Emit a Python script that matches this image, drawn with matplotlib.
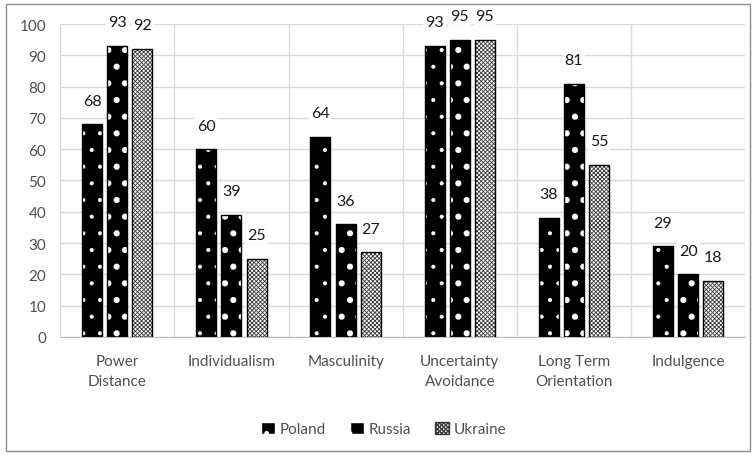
import numpy as np
import matplotlib
matplotlib.use("Agg")
import matplotlib.pyplot as plt
from matplotlib.patches import Rectangle, Patch

# Hofstede dimension scores
categories = ["Power\nDistance", "Individualism", "Masculinity",
              "Uncertainty\nAvoidance", "Long Term\nOrientation", "Indulgence"]
poland = [68, 60, 64, 93, 38, 29]
russia = [93, 39, 36, 95, 81, 20]
ukraine = [92, 25, 27, 95, 55, 18]
series_names = ["Poland", "Russia", "Ukraine"]
y_ticks = list(range(0, 101, 10))

plt.rcParams['font.family'] = ['Lato', 'DejaVu Sans']

fig = plt.figure(figsize=(7.52, 4.56), dpi=100)
ax = fig.add_axes([0.08, 0.259, 0.911, 0.686])

x = np.arange(len(categories))
width = 0.175
step = 0.22

styles = [
    dict(facecolor="black", edgecolor="white", hatch=".", hlw=0.5),    # Poland
    dict(facecolor="black", edgecolor="white", hatch=".", hlw=2.0),    # Russia
    dict(facecolor="white", edgecolor="#3a3a3a", hatch="xxxxxxxx", hlw=0.6),  # Ukraine
]

all_vals = [poland, russia, ukraine]
for i, vals in enumerate(all_vals):
    pos = x + (i - 1) * step
    st = styles[i]
    with plt.rc_context({'hatch.linewidth': st["hlw"]}):
        ax.bar(pos, vals, width, facecolor=st["facecolor"], edgecolor=st["edgecolor"],
               hatch=st["hatch"], linewidth=0, zorder=2)
    ax.bar(pos, vals, width, fill=False, edgecolor="black", linewidth=1, zorder=3)

# data labels with white boxes like Excel
for i, vals in enumerate(all_vals):
    pos = x + (i - 1) * step
    for p, v in zip(pos, vals):
        ax.annotate(str(v), (p, v), xytext=(0, 17), textcoords="offset points",
                    ha="center", va="center", fontsize=11.5, color="#1a1a1a",
                    bbox=dict(facecolor="white", edgecolor="none", pad=1.5),
                    zorder=4, annotation_clip=False)

ax.set_xlim(-0.5, len(categories) - 0.5)
ax.set_ylim(0, 100)
ax.set_yticks(y_ticks)
ax.set_xticks(x)
ax.set_xticklabels(categories, fontsize=11, color="#505050", linespacing=1.6)
ax.tick_params(axis="y", labelsize=11, labelcolor="#505050", length=0, pad=10)
ax.tick_params(axis="x", length=0, pad=12)
ax.set_xticks(np.arange(-0.5, len(categories), 1), minor=True)
ax.tick_params(axis="x", which="minor", length=0)
ax.grid(axis="y", color="#d9d9d9", linewidth=1, zorder=0)
ax.grid(axis="x", which="minor", color="#d9d9d9", linewidth=1, zorder=0)
ax.grid(axis="x", which="major", visible=False)
for s in ["top", "right", "left"]:
    ax.spines[s].set_visible(False)
ax.spines["bottom"].set_color("#bfbfbf")
ax.set_axisbelow(True)

handles = []
for st in styles:
    with plt.rc_context({'hatch.linewidth': st["hlw"]}):
        handles.append(Patch(facecolor=st["facecolor"], edgecolor=st["edgecolor"],
                             hatch=st["hatch"]))
fig.legend(handles, series_names, loc="center", bbox_to_anchor=(0.51, 0.057), ncol=3,
           frameon=False, fontsize=11, handlelength=0.9, handleheight=0.9,
           handletextpad=0.3, columnspacing=1.6, labelcolor="#505050")

fig.patches.append(Rectangle((6 / 752, 4 / 456), 744 / 752, 447 / 456,
                             transform=fig.transFigure, fill=False,
                             edgecolor="#8c8c8c", linewidth=1))

fig.savefig("out.png", dpi=100)
